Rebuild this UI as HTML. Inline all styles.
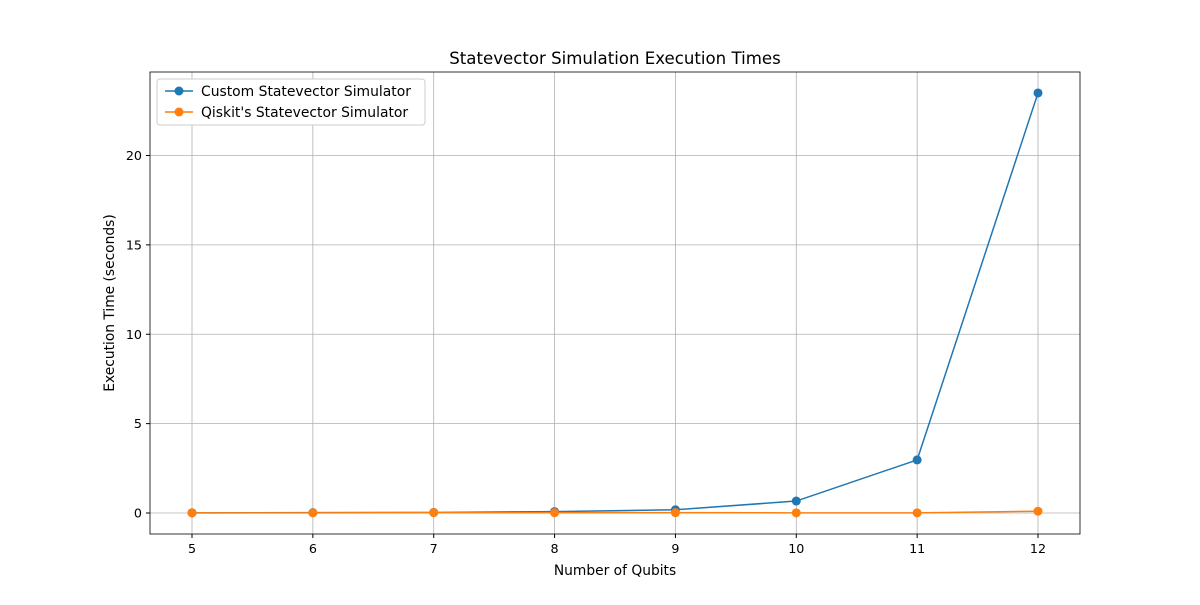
<!DOCTYPE html>
<html><head><meta charset="utf-8"><style>
body{margin:0;background:#fff;font-family:"Liberation Sans","DejaVu Sans",sans-serif}
svg text{font-family:"DejaVu Sans","Liberation Sans",sans-serif;fill:#000}
</style></head><body>
<svg id="chart" width="1200" height="600">
<rect x="0" y="0" width="1200" height="600" fill="#fff"/>
<g id="grid"></g><g id="axes"></g><g id="series"></g>
<text x="615" y="64" font-size="16.6" text-anchor="middle">Statevector Simulation Execution Times</text>
<text x="615" y="575" font-size="13.8" text-anchor="middle">Number of Qubits</text>
<text transform="translate(114,303) rotate(-90)" font-size="13.8" text-anchor="middle">Execution Time (seconds)</text>
<g>
<rect x="157" y="79" width="268" height="46" fill="#fff" stroke="#ccc" rx="3"/>
<g><line x1="165" y1="91" x2="193" y2="91" stroke="#1f77b4" stroke-width="1.5"/><circle cx="179" cy="91" r="4.5" fill="#1f77b4"/><text x="201" y="96" font-size="13.9">Custom Statevector Simulator</text></g>
<g><line x1="165" y1="112" x2="193" y2="112" stroke="#ff7f0e" stroke-width="1.5"/><circle cx="179" cy="112" r="4.5" fill="#ff7f0e"/><text x="201" y="117" font-size="13.9">Qiskit's Statevector Simulator</text></g>
</g>
</svg>
<script>
const qubits=[5,6,7,8,9,10,11,12];
const customTimes=[0.01,0.02,0.03,0.08,0.18,0.67,2.97,23.5];
const qiskitTimes=[0.01,0.01,0.02,0.02,0.02,0.01,0.01,0.1];
const yTicks=[0,5,10,15,20];
const ns="http://www.w3.org/2000/svg";
const L=150,R=1080,T=72,B=534;
const xS=v=>192+(v-5)*(1038-192)/7;
const yS=v=>513-v*(513-155.5)/20;
function mk(tag,attrs,parent){const e=document.createElementNS(ns,tag);for(const k in attrs)e.setAttribute(k,attrs[k]);parent.appendChild(e);return e;}
const grid=document.getElementById('grid'),axes=document.getElementById('axes'),ser=document.getElementById('series');
qubits.forEach(q=>{
 const g=mk('line',{x1:xS(q),x2:xS(q),y1:T,y2:B,stroke:'#b0b0b0','stroke-width':0.8},grid);
 
 
 mk('line',{x1:xS(q),x2:xS(q),y1:B,y2:B+4,stroke:'#000'},axes);
 const t=mk('text',{x:xS(q),y:B+19,'font-size':12.7,'text-anchor':'middle'},axes);t.textContent=q;
 
 
});
yTicks.forEach(v=>{
 const g=mk('line',{x1:L,x2:R,y1:yS(v),y2:yS(v),stroke:'#b0b0b0','stroke-width':0.8},grid);
 
 
 mk('line',{x1:L-4,x2:L,y1:yS(v),y2:yS(v),stroke:'#000'},axes);
 const t=mk('text',{x:L-8,y:yS(v)+4.5,'font-size':12.7,'text-anchor':'end'},axes);t.textContent=v;
 
 
});
const fr=mk('rect',{x:L,y:T,width:R-L,height:B-T,fill:'none',stroke:'#000','stroke-width':0.8},axes);


function drawSeries(vals,color,name){
 const p=mk('polyline',{points:qubits.map((q,i)=>xS(q)+','+yS(vals[i])).join(' '),fill:'none',stroke:color,'stroke-width':1.5},ser);
 
 
 qubits.forEach((q,i)=>{
  const c=mk('circle',{cx:xS(q),cy:yS(vals[i]),r:4.5,fill:color},ser);
  
  
 });
}
drawSeries(customTimes,'#1f77b4','custom');
drawSeries(qiskitTimes,'#ff7f0e','qiskit');
</script>
</body></html>
